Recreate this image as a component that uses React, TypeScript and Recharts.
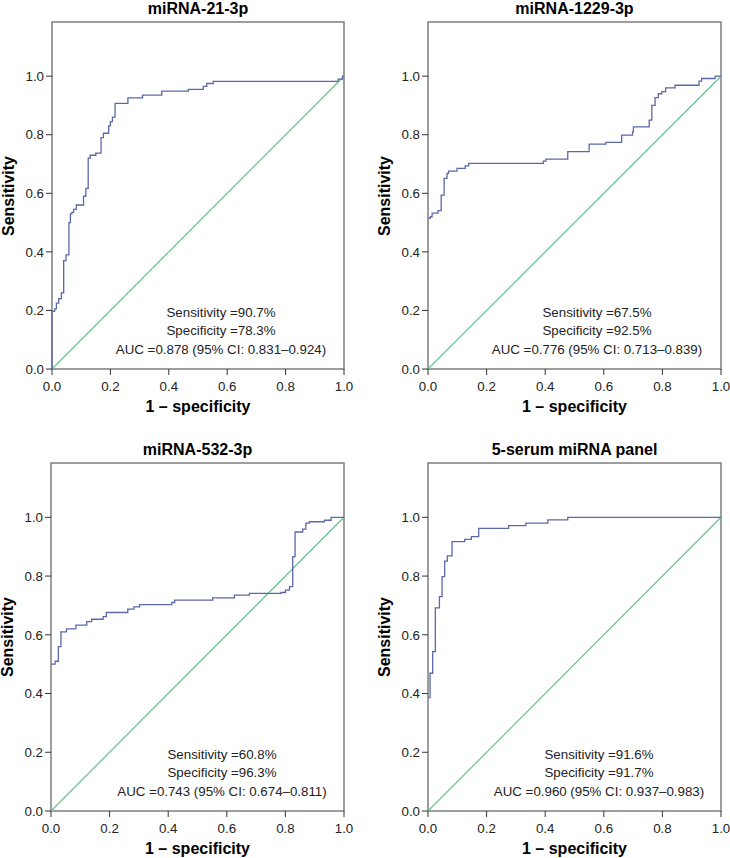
import { LineChart, Line, XAxis, YAxis, ReferenceArea } from "recharts";

// ROC steps: at each fpr value the sensitivity jumps to the matching tpr value
const FPR_21 = [0, 0, 0.009, 0.015, 0.023, 0.032, 0.04, 0.048, 0.058, 0.063, 0.068, 0.074, 0.083, 0.108, 0.116, 0.124, 0.131, 0.15, 0.168, 0.176, 0.194, 0.2, 0.207, 0.216, 0.26, 0.31, 0.376, 0.467, 0.518, 0.53, 0.552, 0.98, 0.995, 1];
const TPR_21 = [0, 0.197, 0.205, 0.225, 0.24, 0.26, 0.37, 0.39, 0.5, 0.53, 0.535, 0.545, 0.56, 0.59, 0.617, 0.72, 0.73, 0.737, 0.79, 0.805, 0.83, 0.845, 0.86, 0.907, 0.926, 0.935, 0.949, 0.955, 0.965, 0.975, 0.982, 0.99, 1.0, 1.0];

const FPR_1229 = [0, 0.008, 0.014, 0.034, 0.045, 0.055, 0.065, 0.07, 0.099, 0.127, 0.139, 0.394, 0.402, 0.477, 0.55, 0.607, 0.661, 0.698, 0.701, 0.755, 0.764, 0.775, 0.786, 0.798, 0.811, 0.843, 0.925, 0.934, 0.98, 1];
const TPR_1229 = [0.515, 0.52, 0.532, 0.541, 0.594, 0.651, 0.668, 0.676, 0.685, 0.694, 0.702, 0.71, 0.717, 0.742, 0.768, 0.774, 0.799, 0.81, 0.827, 0.85, 0.9, 0.927, 0.94, 0.947, 0.96, 0.969, 0.983, 0.992, 1.0, 1.0];

const FPR_532 = [0, 0.014, 0.025, 0.034, 0.053, 0.085, 0.122, 0.139, 0.178, 0.189, 0.262, 0.283, 0.302, 0.4125, 0.422, 0.552, 0.626, 0.677, 0.785, 0.8, 0.814, 0.825, 0.825, 0.833, 0.859, 0.87, 0.882, 0.933, 0.956, 1];
const TPR_532 = [0.5, 0.51, 0.56, 0.61, 0.62, 0.633, 0.645, 0.653, 0.662, 0.676, 0.6875, 0.695, 0.703, 0.71, 0.718, 0.726, 0.735, 0.741, 0.744, 0.752, 0.764, 0.78, 0.866, 0.95, 0.96, 0.98, 0.985, 0.99, 1.0, 1.0];

const FPR_PANEL = [0, 0.007, 0.016, 0.025, 0.039, 0.048, 0.057, 0.066, 0.082, 0.125, 0.148, 0.173, 0.275, 0.334, 0.409, 0.477, 1];
const TPR_PANEL = [0.386, 0.469, 0.543, 0.692, 0.73, 0.798, 0.851, 0.869, 0.917, 0.925, 0.934, 0.9625, 0.9716, 0.98, 0.991, 1.0, 1.0];

const DIAG_X = [0, 1];
const DIAG_Y = [0, 1];

const TICKS = [0, 0.2, 0.4, 0.6, 0.8, 1.0];
const Y_MAX = 1.185;

const TITLES = ["miRNA-21-3p", "miRNA-1229-3p", "miRNA-532-3p", "5-serum miRNA panel"];
const SENS = ["90.7%", "67.5%", "60.8%", "91.6%"];
const SPEC = ["78.3%", "92.5%", "96.3%", "91.7%"];
const AUC = [
  "0.878 (95% CI: 0.831–0.924)",
  "0.776 (95% CI: 0.713–0.839)",
  "0.743 (95% CI: 0.674–0.811)",
  "0.960 (95% CI: 0.937–0.983)",
];

const zip = (xs: number[], ys: number[]) => xs.map((x, i) => ({ x, y: ys[i] }));

const CURVES = [
  zip(FPR_21, TPR_21),
  zip(FPR_1229, TPR_1229),
  zip(FPR_532, TPR_532),
  zip(FPR_PANEL, TPR_PANEL),
];
const DIAG = zip(DIAG_X, DIAG_Y);

const FONT = '"Liberation Sans", Arial, sans-serif';
const BLUE = "#5b68a9";
const GREEN = "#6cc68e";
const FRAME = "#7d7d7d";

// panel placement on the page
const PANELS = [
  { left: 0, top: 0, w: 365, h: 430, yw: 52, right: 21, mt: 22, xh: 61, annX: 221 },
  { left: 365, top: 0, w: 365, h: 430, yw: 63, right: 9, mt: 22, xh: 61, annX: 232 },
  { left: 0, top: 430, w: 365, h: 428, yw: 51, right: 21, mt: 33, xh: 47, annX: 222 },
  { left: 365, top: 430, w: 365, h: 428, yw: 63, right: 9, mt: 33, xh: 47, annX: 234 },
];

const center: React.CSSProperties = {
  position: "absolute",
  transform: "translate(-50%, -50%)",
  whiteSpace: "nowrap",
  lineHeight: 1,
  fontFamily: FONT,
};

function RocPanel({ i }: { i: number }) {
  const p = PANELS[i];
  const plotLeft = p.yw;
  const plotRight = p.w - p.right;
  const plotBottom = p.h - p.xh;
  const cx = (plotLeft + plotRight) / 2;
  return (
    <div style={{ position: "absolute", left: p.left, top: p.top, width: p.w, height: p.h }}>
      <LineChart width={p.w} height={p.h} margin={{ top: p.mt, right: p.right, bottom: 0, left: 0 }}>
        <XAxis
          type="number"
          dataKey="x"
          domain={[0, 1]}
          ticks={TICKS}
          tickFormatter={(v) => Number(v).toFixed(1)}
          height={p.xh}
          axisLine={false}
          tickLine={{ stroke: "#333" }}
          tickSize={6}
          tickMargin={7}
          tick={{ fontSize: 13.3, fill: "#222", fontFamily: FONT }}
        />
        <YAxis
          type="number"
          domain={[0, Y_MAX]}
          ticks={TICKS}
          tickFormatter={(v) => Number(v).toFixed(1)}
          width={p.yw}
          axisLine={false}
          tickLine={{ stroke: "#333" }}
          tickSize={6}
          tickMargin={2}
          allowDataOverflow
          tick={{ fontSize: 13.3, fill: "#222", fontFamily: FONT }}
        />
        <ReferenceArea x1={0} x2={1} y1={0} y2={Y_MAX} fill="none" stroke={FRAME} strokeWidth={1.5} />
        <Line data={DIAG} dataKey="y" type="linear" stroke={GREEN} strokeWidth={1.3} dot={false} isAnimationActive={false} />
        <Line data={CURVES[i]} dataKey="y" type="stepAfter" stroke={BLUE} strokeWidth={1.3} dot={false} isAnimationActive={false} />
      </LineChart>
      <div style={{ ...center, left: cx, top: p.mt - 13.5, fontSize: 16, fontWeight: "bold" }}>{TITLES[i]}</div>
      <div style={{ ...center, left: cx, top: plotBottom + 37.5, fontSize: 16, fontWeight: "bold" }}>1 – specificity</div>
      <div
        style={{
          ...center,
          left: plotLeft - 43,
          top: (p.mt + plotBottom) / 2,
          fontSize: 16,
          fontWeight: "bold",
          transform: "translate(-50%, -50%) rotate(-90deg)",
        }}
      >
        Sensitivity
      </div>
      <div style={{ ...center, left: p.annX, top: plotBottom - 56.5, fontSize: 13.3, color: "#222" }}>Sensitivity ={SENS[i]}</div>
      <div style={{ ...center, left: p.annX, top: plotBottom - 38, fontSize: 13.3, color: "#222" }}>Specificity ={SPEC[i]}</div>
      <div style={{ ...center, left: p.annX, top: plotBottom - 19.5, fontSize: 13.3, color: "#222" }}>AUC ={AUC[i]}</div>
    </div>
  );
}

export default function App() {
  return (
    <div style={{ position: "absolute", left: 0, top: 0, width: 730, height: 858, background: "#fff", overflow: "hidden" }}>
      {PANELS.map((_, i) => (
        <RocPanel key={i} i={i} />
      ))}
    </div>
  );
}
